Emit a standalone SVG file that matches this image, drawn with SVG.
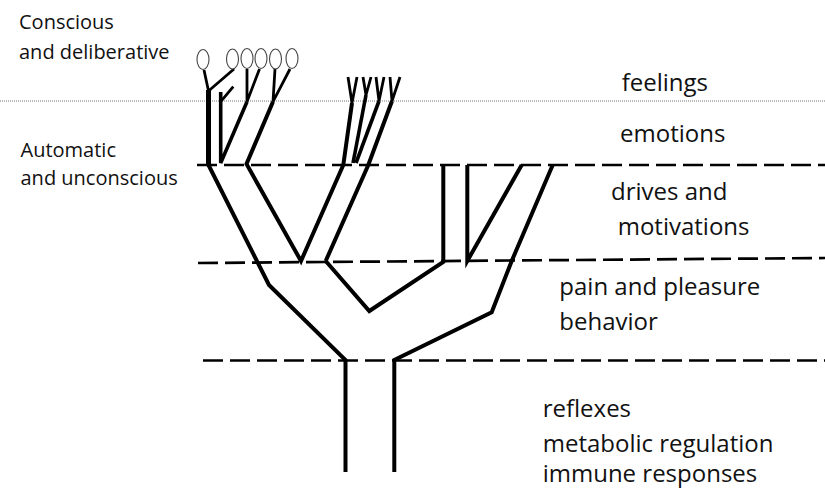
<svg xmlns="http://www.w3.org/2000/svg" width="825" height="491" viewBox="0 0 825 491">
<style>
.lbl{font-family:"Open Sans","Noto Sans",sans-serif;fill:#111}
.side{font-size:20px}
.lvl{font-size:24px}
.dash{stroke:#000;stroke-width:2.7;stroke-dasharray:20 7;fill:none}
.dot{stroke:#777;stroke-width:1;stroke-dasharray:1 1;fill:none}
.br{stroke:#000;stroke-width:4;fill:none;stroke-linejoin:miter;stroke-linecap:butt}
.arm{stroke:#000;stroke-width:2.8;fill:none;stroke-linecap:butt}
.oval{fill:#fff;stroke:#444;stroke-width:1.1}
</style>
<rect width="825" height="491" fill="#fff"/>
<g id="levels">
<line class="dot" x1="0" y1="101" x2="825" y2="101"/>
<line class="dash" x1="197" y1="165" x2="825" y2="165"/>
<line class="dash" x1="198" y1="263" x2="825" y2="258"/>
<line class="dash" x1="203" y1="360.5" x2="825" y2="360.5"/>
</g>
<g id="connectors">
<line x1="208.5" y1="90" x2="208.5" y2="166" stroke="#000" stroke-width="5"/>
<path class="br" d="M208.5,165 L269,285 L345.5,360 V472"/>
<path class="arm" d="M208.5,91 L204,70 M208.5,91 L234,69"/>
<path class="br" d="M220.7,92 V163 L247,101.7" style="stroke-width:3.6"/>
<path class="arm" d="M220.7,101.7 L233.3,86.7 M247,101.7 L247,69 M247,101.7 L259.5,69"/>
<path class="br" d="M273,101.7 L246.5,164 L301,261 L343.3,165 L352,103"/>
<path class="arm" d="M275,69 L273,101.7 L290,69"/>
<path class="arm" d="M348,77 L352,103 L357,77"/>
<path class="br" d="M353,163 L366,95" style="stroke-width:3.6"/>
<path class="arm" d="M363,77 L366,95 L371,77"/>
<path class="br" d="M356,163 L379,101" style="stroke-width:3.6"/>
<path class="arm" d="M376,77 L379,101 L384,77"/>
<path class="br" d="M325.7,261 L368.3,165 L392,101"/>
<path class="arm" d="M390,77 L392,101 L400,77"/>
<path class="br" d="M325.7,261 L369.3,311 L443.3,262 V165"/>
<path class="br" d="M467.3,165 V261 L521.7,165"/>
<path class="br" d="M552.7,165 L511.7,261 L491.7,312.3 L394.3,360 V472"/>
</g>
<g id="ovals">
<ellipse class="oval" cx="203" cy="59.5" rx="6" ry="10"/>
<ellipse class="oval" cx="232.5" cy="59" rx="6" ry="10"/>
<ellipse class="oval" cx="247" cy="58.5" rx="6" ry="10"/>
<ellipse class="oval" cx="261" cy="58.5" rx="6" ry="10"/>
<ellipse class="oval" cx="275.5" cy="59" rx="6" ry="10"/>
<ellipse class="oval" cx="292" cy="58.5" rx="6" ry="10"/>
</g>
<g id="side-labels">
<text class="lbl side" x="19" y="29.3">Conscious</text>
<text class="lbl side" x="19" y="59.3">and deliberative</text>
<text class="lbl side" x="20.5" y="156.7">Automatic</text>
<text class="lbl side" x="20.5" y="185">and unconscious</text>
</g>
<g id="level-labels">
<text class="lbl lvl" x="621.7" y="90.7">feelings</text>
<text class="lbl lvl" x="620" y="141.7">emotions</text>
<text class="lbl lvl" x="611" y="200">drives and</text>
<text class="lbl lvl" x="617.7" y="235">motivations</text>
<text class="lbl lvl" x="559.3" y="295">pain and pleasure</text>
<text class="lbl lvl" x="559.3" y="330">behavior</text>
<text class="lbl lvl" x="542.7" y="416.7">reflexes</text>
<text class="lbl lvl" x="542.7" y="451.7">metabolic regulation</text>
<text class="lbl lvl" x="542.7" y="481.7">immune responses</text>
</g>
</svg>
